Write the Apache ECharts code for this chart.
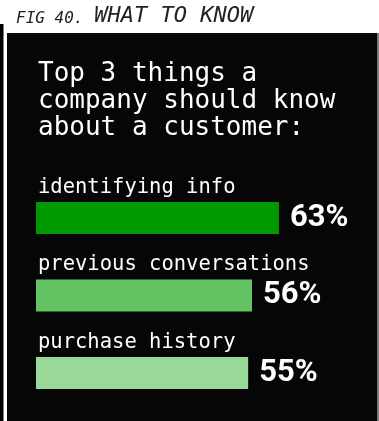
<!DOCTYPE html>
<html>
<head>
<meta charset="utf-8">
<script src="https://cdn.jsdelivr.net/npm/echarts@6/dist/echarts.min.js"></script>
<style>
  html, body { margin: 0; padding: 0; background: #ffffff; }
  #chart { width: 379px; height: 421px; }
</style>
</head>
<body>
<div id="chart"></div>
<script>
// Survey answers: what a company should know about a customer
const categories = ['identifying info', 'previous conversations', 'purchase history'];
const shares = [63, 56, 55];
const barColors = ['#009a00', '#63c463', '#9ad89a'];

const chart = echarts.init(document.getElementById('chart'), null, { renderer: 'canvas' });

const mono = '"DejaVu Sans Mono", "Liberation Mono", monospace';

chart.setOption({
  backgroundColor: '#ffffff',
  animation: false,
  graphic: [
    { type: 'rect', z: -10, shape: { x: 0, y: 24, width: 3.5, height: 400 }, style: { fill: '#000000' } },
    { type: 'rect', z: -10, shape: { x: 7, y: 33, width: 370, height: 400 }, style: { fill: '#060606' } },
    { type: 'rect', z: -10, shape: { x: 377, y: 33, width: 2, height: 400 }, style: { fill: '#7a7a7a' } }
  ],
  title: [
    {
      text: '{a|FIG 40.}{s| }{b|WHAT TO KNOW}',
      left: 16,
      top: 1,
      padding: 0,
      textStyle: {
        rich: {
          a: { fontFamily: mono, fontStyle: 'italic', fontWeight: 'normal', fontSize: 16, color: '#222222', verticalAlign: 'bottom', lineHeight: 26 },
          s: { fontFamily: mono, fontWeight: 'normal', fontSize: 18, verticalAlign: 'bottom', lineHeight: 26 },
          b: { fontFamily: mono, fontStyle: 'italic', fontWeight: 'normal', fontSize: 22, color: '#222222', verticalAlign: 'bottom', lineHeight: 26 }
        }
      }
    },
    {
      text: 'Top 3 things a\ncompany should know\nabout a customer:',
      left: 38,
      top: 61,
      padding: 0,
      textStyle: {
        fontFamily: mono,
        fontWeight: 'normal',
        fontSize: 26,
        lineHeight: 27,
        color: '#ffffff'
      }
    }
  ],
  grid: { left: 36, right: 34.4, top: 179.25, bottom: 9.25, containLabel: false },
  xAxis: {
    type: 'value',
    min: 0,
    max: 80,
    show: false
  },
  yAxis: {
    type: 'category',
    data: categories,
    inverse: true,
    axisLine: { show: false },
    axisTick: { show: false },
    axisLabel: {
      inside: true,
      margin: 2,
      align: 'left',
      verticalAlign: 'bottom',
      padding: [0, 0, 20, 0],
      fontFamily: mono,
      fontSize: 20.5,
      color: '#ffffff'
    }
  },
  series: [{
    type: 'bar',
    data: shares.map((v, i) => ({ value: v, itemStyle: { color: barColors[i] } })),
    barWidth: 32,
    label: {
      show: true,
      position: 'right',
      distance: 11,
      formatter: '{c}%',
      fontFamily: 'Roboto, "Liberation Sans", sans-serif',
      fontWeight: 'bold',
      fontSize: 31,
      color: '#ffffff'
    }
  }]
});
</script>
</body>
</html>
